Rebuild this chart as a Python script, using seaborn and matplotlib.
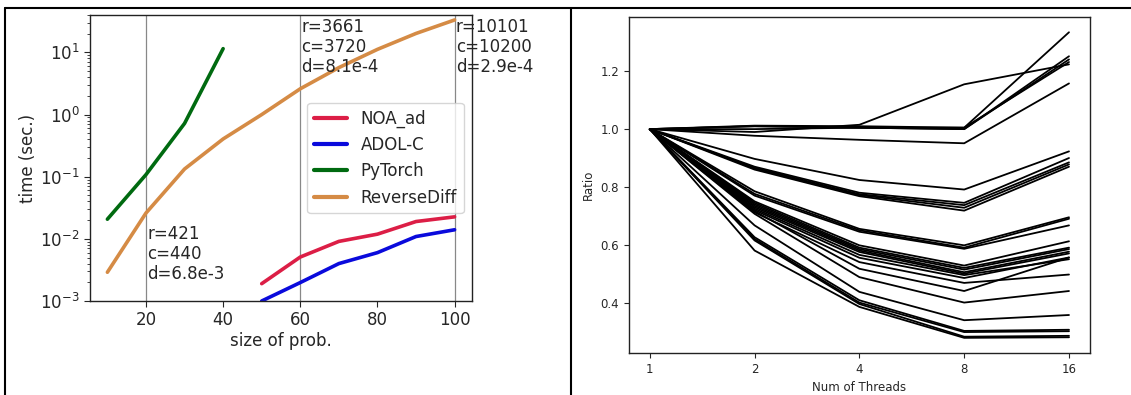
import matplotlib
matplotlib.use("Agg")
import matplotlib.pyplot as plt
import matplotlib.ticker as mtick
from matplotlib.lines import Line2D
import numpy as np
import pandas as pd
import seaborn as sns

sns.set_style("ticks")
plt.rcParams["font.family"] = ["DejaVu Sans"]

# ---- left panel: time vs problem size ----
size_small = [10, 20, 30, 40]
size_all = [10, 20, 30, 40, 50, 60, 70, 80, 90, 100]
size_big = [50, 60, 70, 80, 90, 100]

time_pytorch = [0.0207, 0.108, 0.72, 11.5]
time_reversediff = [0.0029, 0.026, 0.133, 0.405, 1.0, 2.6, 5.7, 11.2, 20.2, 33.3]
time_noa = [0.0019, 0.0051, 0.0091, 0.0119, 0.019, 0.0226]
time_adolc = [0.001, 0.00198, 0.0040, 0.0060, 0.0109, 0.0140]

methods = ["NOA_ad", "ADOL-C", "PyTorch", "ReverseDiff"]
method_colors = {"NOA_ad": "#dc1e46", "ADOL-C": "#0a0adc",
                 "PyTorch": "#006a10", "ReverseDiff": "#d58b45"}

marker_sizes = [20, 60, 100]
marker_text = ["r=421\nc=440\nd=6.8e-3",
               "r=3661\nc=3720\nd=8.1e-4",
               "r=10101\nc=10200\nd=2.9e-4"]
marker_text_y = [0.017, 36, 36]

# ---- right panel: ratio vs threads ----
threads = [1, 2, 4, 8, 16]

ratio_flat = [
    [1.0, 0.99, 1.015, 1.155, 1.224],
    [1.0, 1.01, 1.005, 1.005, 1.335],
    [1.0, 1.01, 1.005, 1.0, 1.252],
    [1.0, 1.0, 1.005, 1.0, 1.241],
    [1.0, 1.012, 1.01, 1.005, 1.232],
    [1.0, 0.977, 0.963, 0.951, 1.158],
]
ratio_high = [
    [1.0, 0.897, 0.824, 0.791, 0.923],
    [1.0, 0.87, 0.78, 0.745, 0.90],
    [1.0, 0.866, 0.775, 0.737, 0.885],
    [1.0, 0.864, 0.772, 0.728, 0.878],
    [1.0, 0.86, 0.768, 0.718, 0.870],
]
ratio_mid = [
    [1.0, 0.785, 0.655, 0.598, 0.695],
    [1.0, 0.776, 0.650, 0.590, 0.690],
    [1.0, 0.770, 0.645, 0.586, 0.667],
]
ratio_low = [
    [1.0, 0.750, 0.598, 0.528, 0.612],
    [1.0, 0.745, 0.590, 0.520, 0.590],
    [1.0, 0.740, 0.585, 0.514, 0.585],
    [1.0, 0.735, 0.580, 0.505, 0.576],
    [1.0, 0.730, 0.575, 0.500, 0.570],
    [1.0, 0.725, 0.565, 0.495, 0.550],
    [1.0, 0.720, 0.555, 0.485, 0.556],
    [1.0, 0.712, 0.540, 0.468, 0.497],
    [1.0, 0.716, 0.517, 0.440, 0.556],
    [1.0, 0.707, 0.488, 0.400, 0.440],
]
ratio_bottom = [
    [1.0, 0.667, 0.437, 0.339, 0.357],
    [1.0, 0.626, 0.408, 0.302, 0.306],
    [1.0, 0.620, 0.400, 0.298, 0.301],
    [1.0, 0.615, 0.395, 0.282, 0.285],
    [1.0, 0.580, 0.385, 0.278, 0.280],
]

# build tables
time_df = pd.concat([
    pd.DataFrame({"size": size_big, "time": time_noa, "method": "NOA_ad"}),
    pd.DataFrame({"size": size_big, "time": time_adolc, "method": "ADOL-C"}),
    pd.DataFrame({"size": size_small, "time": time_pytorch, "method": "PyTorch"}),
    pd.DataFrame({"size": size_all, "time": time_reversediff, "method": "ReverseDiff"}),
], ignore_index=True)

rows = []
run = 0
for group in [ratio_flat, ratio_high, ratio_mid, ratio_low, ratio_bottom]:
    for vals in group:
        for t, v in zip(threads, vals):
            rows.append({"threads": t, "ratio": v, "run": run})
        run += 1
ratio_df = pd.DataFrame(rows)

fig = plt.figure(figsize=(11.31, 3.95), dpi=100)
ax1 = fig.add_axes([0.0796, 0.238, 0.3377, 0.724])
ax2 = fig.add_axes([0.556, 0.106, 0.4077, 0.851])

# left
for xs in marker_sizes:
    ax1.axvline(xs, color="#888888", lw=0.9, zorder=0)
sns.lineplot(data=time_df, x="size", y="time", hue="method", hue_order=methods,
             palette=method_colors, lw=2.6, ax=ax1, estimator=None, sort=False)
ax1.set_yscale("log")
ax1.set_ylim(1e-3, 40)
ax1.set_xlim(5.5, 104.5)
ax1.xaxis.set_major_locator(mtick.FixedLocator([20, 40, 60, 80, 100]))
for xs, txt, ty in zip(marker_sizes, marker_text, marker_text_y):
    ax1.text(xs + 0.3, ty, txt, ha="left", va="top", fontsize=12, linespacing=1.15)
ax1.set_xlabel("size of prob.", fontsize=12, labelpad=2)
ax1.set_ylabel("time (sec.)", fontsize=12, labelpad=2)
ax1.tick_params(axis="both", which="major", labelsize=12, length=4, direction="out")
ax1.tick_params(axis="y", which="minor", length=2)
leg = ax1.legend(loc="center right", fontsize=12, handlelength=2.0, frameon=True)
for h in leg.get_lines():
    h.set_linewidth(3)
leg.get_frame().set_edgecolor("#cccccc")
for s in ax1.spines.values():
    s.set_color("#222222")
    s.set_linewidth(1.0)
    s.set_visible(True)

# right
sns.lineplot(data=ratio_df, x="threads", y="ratio", units="run", estimator=None,
             color="black", lw=1.3, ax=ax2)
ax2.set_xscale("log", base=2)
ax2.xaxis.set_major_locator(mtick.FixedLocator(threads))
ax2.xaxis.set_major_formatter(mtick.FixedFormatter([str(t) for t in threads]))
ax2.xaxis.set_minor_locator(mtick.NullLocator())
ax2.yaxis.set_major_locator(mtick.FixedLocator([0.4, 0.6, 0.8, 1.0, 1.2]))
ax2.set_xlabel("Num of Threads", fontsize=8.5)
ax2.set_ylabel("Ratio", fontsize=8.5)
ax2.tick_params(axis="both", labelsize=8.5, length=3.5)
for s in ax2.spines.values():
    s.set_color("#222222")
    s.set_linewidth(1.0)
    s.set_visible(True)

# table borders
fig.add_artist(Line2D([0.0044, 1.0], [0.979, 0.979], color="black", lw=1.5,
                      transform=fig.transFigure))
fig.add_artist(Line2D([0.0044, 0.0044], [0.0, 0.979], color="black", lw=1.5,
                      transform=fig.transFigure))
fig.add_artist(Line2D([0.5049, 0.5049], [0.0, 0.979], color="black", lw=1.5,
                      transform=fig.transFigure))

fig.savefig("out.png", dpi=100)
